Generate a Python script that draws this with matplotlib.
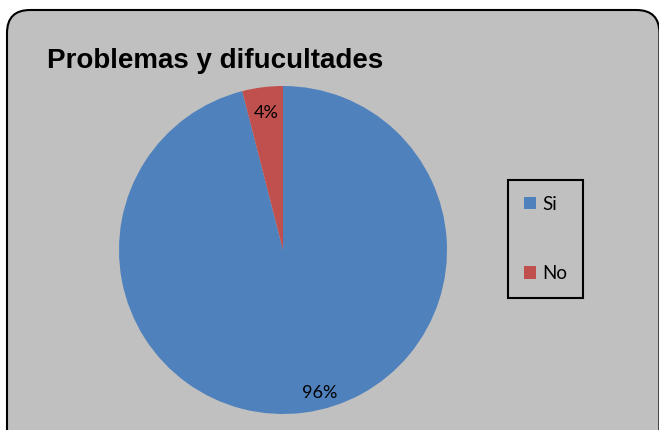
import matplotlib.pyplot as plt
from matplotlib.patches import FancyBboxPatch

# Data
labels = ["Si", "No"]
shares = [96, 4]
colors = ["#4F81BD", "#C0504D"]
title = "Problemas y difucultades"

fig = plt.figure(figsize=(6.59, 4.30), dpi=100)
fig.patch.set_facecolor("white")

# Rounded chart area frame
frame = FancyBboxPatch((7 / 659, -0.2), 0.99, 1.0 - 10 / 430 + 0.2,
                       boxstyle="round,pad=0,rounding_size=0.035",
                       transform=fig.transFigure, facecolor="#C0C0C0",
                       edgecolor="black", linewidth=1.5, mutation_aspect=659 / 430,
                       zorder=-10)
fig.patches.append(frame)

fig.text(47 / 659, 1 - 61 / 430, title, fontsize=20, fontweight="bold",
         family="Liberation Sans", va="center", ha="left")

# Pie axes: center (283, 250), radius ~164 px
r = 164
ax = fig.add_axes([(283 - r) / 659, (430 - 250 - r) / 430, 2 * r / 659, 2 * r / 430])
ax.set_zorder(5)
ax.patch.set_visible(False)
wedges, texts, autotexts = ax.pie(shares, colors=colors, startangle=90,
                                  counterclock=False, autopct="%1.0f%%",
                                  pctdistance=0.84,
                                  wedgeprops=dict(linewidth=0),
                                  textprops=dict(fontsize=13, family="Lato"))
# Excel places the big label a bit further right / lower
x, y = autotexts[0].get_position()
autotexts[0].set_position((x + 0.12, y - 0.04))
ax.set_aspect("equal")
ax.set_xlim(-1, 1)
ax.set_ylim(-1, 1)
ax.axis("off")

leg = fig.legend(wedges, labels, loc="center", bbox_to_anchor=(545.5 / 659, 1 - 239 / 430),
                 frameon=True, fancybox=False, edgecolor="black", facecolor="#C0C0C0",
                 framealpha=1, prop=dict(family="Lato", size=13.5),
                 handlelength=0.65, handleheight=0.65,
                 handletextpad=0.35, labelspacing=2.8, borderpad=0.85, borderaxespad=0)
leg.get_frame().set_linewidth(1.5)
leg.set_zorder(6)

fig.savefig("out.png", dpi=100)
